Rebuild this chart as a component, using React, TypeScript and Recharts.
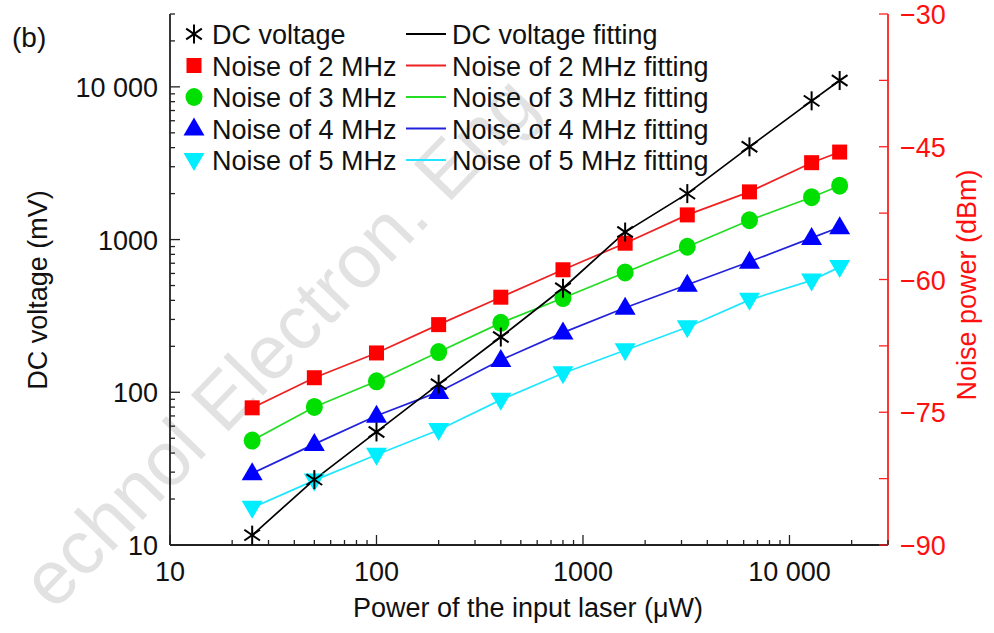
import React from "react";
import { LineChart, Line, XAxis, YAxis } from "recharts";

// input laser power (uW)
const powerUW = [25, 50, 100, 200, 400, 800, 1600, 3200, 6400, 12800, 17500];
// DC voltage (mV), left log axis
const dcVoltage = [11.6, 26.8, 55, 113, 230, 480, 1120, 2000, 4050, 8100, 11000];
// noise power (dBm), right axis
const noise2MHz = [-74.5, -71.1, -68.3, -65.1, -62.0, -58.9, -55.9, -52.7, -50.1, -46.8, -45.6];
const noise3MHz = [-78.2, -74.4, -71.5, -68.2, -64.9, -62.1, -59.2, -56.3, -53.3, -50.7, -49.4];
const noise4MHz = [-81.9, -78.6, -75.4, -72.7, -69.1, -66.0, -63.2, -60.6, -58.0, -55.3, -54.1];
const noise5MHz = [-85.8, -82.7, -79.8, -77.0, -73.6, -70.6, -68.0, -65.4, -62.3, -60.1, -58.6];

const logMajors = [10, 100, 1000, 10000];
const logLabels = ["10", "100", "1000", "10 000"];
const noiseMajors = [-90, -75, -60, -45, -30];
const noiseLabels = ["\u221290", "\u221275", "\u221260", "\u221245", "\u221230"];
const noiseMinors = [-82.5, -67.5, -52.5, -37.5];

const legendItems = [
  { name: "DC voltage", fit: "DC voltage fitting", color: "#000000", line: "#000000", shape: "star" },
  { name: "Noise of 2 MHz", fit: "Noise of 2 MHz fitting", color: "#ff0000", line: "#ee2222", shape: "square" },
  { name: "Noise of 3 MHz", fit: "Noise of 3 MHz fitting", color: "#00e000", line: "#22dd22", shape: "circle" },
  { name: "Noise of 4 MHz", fit: "Noise of 4 MHz fitting", color: "#0000ff", line: "#2222dd", shape: "up" },
  { name: "Noise of 5 MHz", fit: "Noise of 5 MHz fitting", color: "#00eeff", line: "#22e6ff", shape: "down" },
];

const FONT = "'Liberation Sans', Arial, Helvetica, sans-serif";

const data = powerUW.map((p, i) => ({
  power: p,
  dc: dcVoltage[i],
  n2: noise2MHz[i],
  n3: noise3MHz[i],
  n4: noise4MHz[i],
  n5: noise5MHz[i],
}));

const logTicks: number[] = [];
logMajors.forEach((d) => {
  for (let m = 1; m <= 9; m++) {
    const v = d * m;
    if (v <= 30000) logTicks.push(v);
  }
});
const noiseTicks = [...noiseMajors, ...noiseMinors].sort((a, b) => a - b);

function Marker({ shape, cx, cy, color }: { shape: string; cx: number; cy: number; color: string }) {
  if (shape === "star") {
    const r = 9.5;
    const a = 0.6;
    return (
      <g stroke="#000" strokeWidth={2}>
        <line x1={cx} y1={cy - r} x2={cx} y2={cy + r} />
        <line x1={cx - r * Math.cos(a)} y1={cy - r * Math.sin(a)} x2={cx + r * Math.cos(a)} y2={cy + r * Math.sin(a)} />
        <line x1={cx - r * Math.cos(a)} y1={cy + r * Math.sin(a)} x2={cx + r * Math.cos(a)} y2={cy - r * Math.sin(a)} />
      </g>
    );
  }
  if (shape === "square") return <rect x={cx - 7.5} y={cy - 7.5} width={15} height={15} fill={color} />;
  if (shape === "circle") return <ellipse cx={cx} cy={cy} rx={8.5} ry={9} fill={color} />;
  if (shape === "up")
    return <polygon points={`${cx},${cy - 11} ${cx + 10.5},${cy + 7} ${cx - 10.5},${cy + 7}`} fill={color} />;
  return <polygon points={`${cx},${cy + 11} ${cx + 10.5},${cy - 7} ${cx - 10.5},${cy - 7}`} fill={color} />;
}

const dotFor = (shape: string, color: string) => (p: any) =>
  (
    <g key={`${shape}-${p.index}`}>
      {p.cx != null && p.cy != null ? <Marker shape={shape} cx={p.cx} cy={p.cy} color={color} /> : null}
    </g>
  );

const isMajor = (list: number[], v: number) => list.findIndex((m) => Math.abs(m - v) < 1e-6);

const BottomTick = (p: any) => {
  const v = p.payload.value;
  const i = isMajor(logMajors, v);
  return (
    <g>
      <line x1={p.x} y1={p.y} x2={p.x} y2={p.y - (i >= 0 ? 10 : 5)} stroke="#222" strokeWidth={1.3} />
      {i >= 0 && (
        <text x={p.x} y={p.y + 36} textAnchor="middle" fontSize={27} fontFamily={FONT} fill="#111">
          {logLabels[i]}
        </text>
      )}
    </g>
  );
};

const LeftTick = (p: any) => {
  const v = p.payload.value;
  const i = isMajor(logMajors, v);
  return (
    <g>
      <line x1={p.x} y1={p.y} x2={p.x + (i >= 0 ? 10 : 5)} y2={p.y} stroke="#222" strokeWidth={1.3} />
      {i >= 0 && (
        <text x={p.x - 12} y={p.y + 10} textAnchor="end" fontSize={27} fontFamily={FONT} fill="#111">
          {logLabels[i]}
        </text>
      )}
    </g>
  );
};

const RightTick = (p: any) => {
  const v = p.payload.value;
  const i = isMajor(noiseMajors, v);
  return (
    <g>
      <line x1={p.x} y1={p.y} x2={p.x - 9} y2={p.y} stroke="#ff2020" strokeWidth={1.3} />
      {i >= 0 && (
        <text x={p.x + 12} y={p.y + 10} textAnchor="start" fontSize={27} fontFamily={FONT} fill="#ff1010">
          {noiseLabels[i]}
        </text>
      )}
    </g>
  );
};

export default function App() {
  return (
    <div style={{ position: "absolute", left: 0, top: 0, width: 994, height: 633, background: "#fff", overflow: "hidden" }}>
      <svg width={994} height={633} style={{ position: "absolute", left: 0, top: 0 }}>
        <text
          x={54}
          y={612}
          transform="rotate(-46 54 612)"
          fontSize={76}
          fontFamily={FONT}
          fill="#e2e2e2"
        >
          echnol Electron. Eng
        </text>
      </svg>
      <div style={{ position: "absolute", left: 0, top: 0 }}>
        <LineChart width={994} height={633} data={data} margin={{ top: 14, right: 6, bottom: 28, left: 70 }}>
          <XAxis
            xAxisId="bottom"
            dataKey="power"
            type="number"
            scale="log"
            domain={[10, 30000]}
            allowDataOverflow
            ticks={logTicks}
            interval={0}
            height={60}
            tickSize={0}
            tickMargin={0}
            tickLine={false}
            tick={BottomTick}
            axisLine={{ stroke: "#222", strokeWidth: 1.8 }}
          />
          <XAxis
            xAxisId="top"
            orientation="top"
            dataKey="power"
            type="number"
            scale="log"
            domain={[10, 30000]}
            allowDataOverflow
            height={0}
            tick={false}
            tickLine={false}
            axisLine={{ stroke: "#333", strokeWidth: 1.8 }}
          />
          <YAxis
            yAxisId="dc"
            type="number"
            scale="log"
            domain={[10, 30000]}
            allowDataOverflow
            ticks={logTicks}
            interval={0}
            width={100}
            tickSize={0}
            tickMargin={0}
            tickLine={false}
            tick={LeftTick}
            axisLine={{ stroke: "#222", strokeWidth: 1.8 }}
          />
          <YAxis
            yAxisId="noise"
            orientation="right"
            type="number"
            domain={[-90, -30]}
            allowDataOverflow
            ticks={noiseTicks}
            interval={0}
            width={100}
            tickSize={0}
            tickMargin={0}
            tickLine={false}
            tick={RightTick}
            axisLine={{ stroke: "#ff2020", strokeWidth: 1.8 }}
          />
          <Line xAxisId="bottom" yAxisId="noise" dataKey="n5" stroke="#22e6ff" strokeWidth={1.7} dot={dotFor("down", "#00eeff")} activeDot={false} isAnimationActive={false} />
          <Line xAxisId="bottom" yAxisId="noise" dataKey="n4" stroke="#2222dd" strokeWidth={1.7} dot={dotFor("up", "#0000ff")} activeDot={false} isAnimationActive={false} />
          <Line xAxisId="bottom" yAxisId="noise" dataKey="n3" stroke="#22dd22" strokeWidth={1.7} dot={dotFor("circle", "#00e000")} activeDot={false} isAnimationActive={false} />
          <Line xAxisId="bottom" yAxisId="noise" dataKey="n2" stroke="#ee2222" strokeWidth={1.7} dot={dotFor("square", "#ff0000")} activeDot={false} isAnimationActive={false} />
          <Line xAxisId="bottom" yAxisId="dc" dataKey="dc" stroke="#000" strokeWidth={1.7} dot={dotFor("star", "#000")} activeDot={false} isAnimationActive={false} />
        </LineChart>
      </div>
      <svg width={994} height={633} style={{ position: "absolute", left: 0, top: 0, pointerEvents: "none" }} fontFamily={FONT}>
        <text x={12} y={47} fontSize={28} fill="#111">(b)</text>
        <text transform="translate(47 290) rotate(-90)" textAnchor="middle" fontSize={27} fill="#111">
          DC voltage (mV)
        </text>
        <text transform="translate(976 285) rotate(-90)" textAnchor="middle" fontSize={27} fill="#ff1010">
          Noise power (dBm)
        </text>
        <text x={528} y={617} textAnchor="middle" fontSize={27} fill="#111">
          Power of the input laser (μW)
        </text>
        {legendItems.map((it, i) => {
          const cy = 34 + i * 31.5;
          return (
            <g key={it.name}>
              <Marker shape={it.shape} cx={194} cy={cy} color={it.color} />
              <text x={212} y={cy + 10} fontSize={27} fill="#111">{it.name}</text>
              <line x1={406} y1={cy} x2={446} y2={cy} stroke={it.line} strokeWidth={1.8} />
              <text x={452} y={cy + 10} fontSize={27} fill="#111">{it.fit}</text>
            </g>
          );
        })}
      </svg>
    </div>
  );
}
